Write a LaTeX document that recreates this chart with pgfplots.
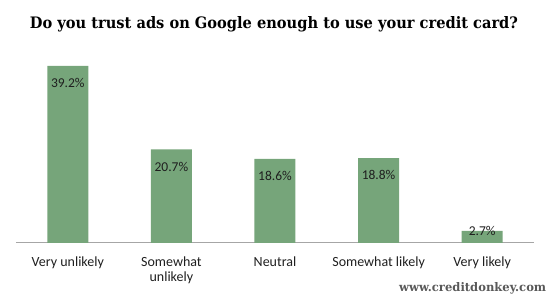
\documentclass[border=0pt]{standalone}
\usepackage{pgfplots}
\pgfplotsset{compat=1.18}
\usepackage{fontspec}
\setmainfont{Carlito}
\newfontfamily\titlefont{DejaVu Serif}
\definecolor{barfill}{HTML}{76A57A}
\definecolor{axisgray}{HTML}{A6A6A6}
\definecolor{txt}{HTML}{1F1F1F}
\begin{document}
\begin{tikzpicture}[x=1pt,y=1pt]
\useasboundingbox (0,0) rectangle (550,300);
\begin{axis}[
  at={(16pt,57pt)}, anchor=south west,
  scale only axis, width=518pt, height=180.8pt,
  xmin=-0.5, xmax=4.5, ymin=0, ymax=40,
  axis x line*=bottom, axis y line=none,
  x axis line style={-, color=axisgray, line width=1pt},
  xtick={0,1,2,3,4},
  xticklabels={Very unlikely, {Somewhat\\unlikely}, Neutral, Somewhat likely, Very likely},
  major tick length=0pt,
  xticklabel style={font=\fontsize{14}{15}\selectfont, text=txt, align=center, anchor=north, inner sep=0pt, yshift=-13.9pt},
  ytick=\empty,
  clip=false,
]
\addplot[ybar, bar width=41pt, bar shift=0pt, fill=barfill, draw=none]
  coordinates {(0,39.2) (1,20.7) (2,18.6) (3,18.8) (4,2.7)};
\addplot[draw=none, mark=none, nodes near coords, point meta=explicit symbolic,
  every node near coord/.append style={anchor=base, inner sep=0pt, font=\fontsize{13.5}{15}\selectfont, text=txt}]
  table[meta=label] {
x y label
0 34.4 39.2\%
1 15.9 20.7\%
2 13.8 18.6\%
3 14.0 18.8\%
4 1.55 2.7\%
};
\end{axis}
\node[anchor=base, inner sep=0pt] at (274,271) {\resizebox{488pt}{12pt}{\titlefont\bfseries Do you trust ads on Google enough to use your credit card?}};
\node[anchor=base west, inner sep=0pt, text=black!65] at (399,8) {\resizebox{147pt}{9pt}{\titlefont\bfseries www.creditdonkey.com}};
\end{tikzpicture}
\end{document}
